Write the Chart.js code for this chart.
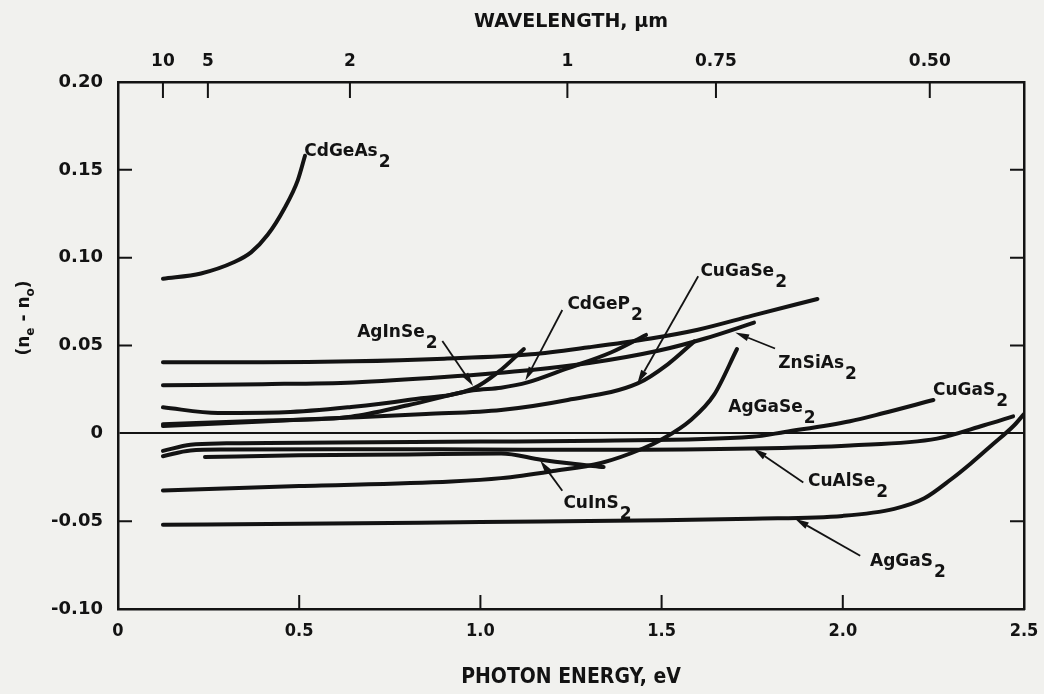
<!DOCTYPE html>
<html>
<head>
<meta charset="utf-8">
<script src="https://cdn.jsdelivr.net/npm/chart.js@4.4.1/dist/chart.umd.min.js"></script>
<style>
  html, body { margin: 0; padding: 0; background: #f1f1ee; }
  #wrap { width: 1044px; height: 694px; }
</style>
</head>
<body>
<div id="wrap"><canvas id="biref" width="1044" height="694"></canvas></div>
<script>
// Birefringence (ne - no) of chalcopyrite crystals vs photon energy

// photon energy (eV) / birefringence for each curve
const cdGeAs2E = [0.124, 0.229, 0.321, 0.367, 0.413, 0.459, 0.496, 0.516];
const cdGeAs2N = [0.088, 0.091, 0.0975, 0.103, 0.113, 0.128, 0.144, 0.158];

// top curve has no label in the figure
const upperE = [0.124, 0.4, 0.65, 0.9, 1.14, 1.3, 1.47, 1.6, 1.75, 1.93];
const upperN = [0.0405, 0.0405, 0.041, 0.0425, 0.045, 0.049, 0.054, 0.059, 0.067, 0.0765];

const znSiAs2E = [0.124, 0.4, 0.65, 0.9, 1.14, 1.3, 1.49, 1.62, 1.755];
const znSiAs2N = [0.0274, 0.028, 0.029, 0.032, 0.036, 0.04, 0.047, 0.054, 0.063];

const agInSe2E = [0.124, 0.276, 0.46, 0.643, 0.8, 0.98, 1.05, 1.12];
const agInSe2N = [0.0148, 0.0116, 0.012, 0.015, 0.019, 0.0255, 0.035, 0.048];

const cdGeP2E = [0.124, 0.4, 0.643, 0.8, 0.98, 1.057, 1.13, 1.24, 1.36, 1.457];
const cdGeP2N = [0.0052, 0.0072, 0.0095, 0.016, 0.0245, 0.026, 0.029, 0.037, 0.046, 0.056];

const cuGaSe2E = [0.124, 0.4, 0.643, 0.85, 1.057, 1.241, 1.434, 1.517, 1.59];
const cuGaSe2N = [0.0042, 0.0068, 0.009, 0.011, 0.0133, 0.019, 0.0284, 0.0393, 0.0523];

const agGaSe2E = [0.124, 0.5, 0.92, 1.057, 1.2, 1.333, 1.45, 1.5, 1.58, 1.645, 1.708];
const agGaSe2N = [-0.0325, -0.03, -0.0274, -0.0255, -0.0215, -0.0169, -0.0085, -0.0035, 0.0075, 0.022, 0.048];

const cuGaS2E = [0.124, 0.2, 0.3, 0.6, 1.0, 1.33, 1.75, 1.84, 2.02, 2.11, 2.25];
const cuGaS2N = [-0.01, -0.0065, -0.0057, -0.0052, -0.0047, -0.0042, -0.002, 0.0008, 0.0069, 0.0114, 0.019];

const cuAlSe2E = [0.124, 0.2, 0.3, 0.6, 1.0, 1.33, 1.75, 2.02, 2.26, 2.39, 2.47];
const cuAlSe2N = [-0.013, -0.0098, -0.0092, -0.009, -0.0092, -0.0094, -0.0087, -0.0069, -0.003, 0.0046, 0.0097];

const cuInS2E = [0.24, 0.5, 0.8, 1.057, 1.167, 1.25, 1.34];
const cuInS2N = [-0.0135, -0.0125, -0.012, -0.0115, -0.015, -0.0172, -0.0192];

const agGaS2E = [0.124, 0.5, 1.0, 1.5, 1.75, 2.0, 2.142, 2.225, 2.3, 2.354, 2.41, 2.473, 2.5];
const agGaS2N = [-0.052, -0.0515, -0.0505, -0.0495, -0.0486, -0.047, -0.043, -0.037, -0.026, -0.017, -0.0069, 0.0046, 0.011];

// axes
const energyTicks = [0.5, 1.0, 1.5, 2.0];
const deltaTicks = [-0.05, 0.05, 0.10, 0.15];
const wavelengthLabels = ["10", "5", "2", "1", "0.75", "0.50"];
const wavelengthTickEnergy = [0.124, 0.248, 0.64, 1.24, 1.65, 2.24];

const ink = "#131313";

function pts(xs, ys) {
  return xs.map((x, i) => ({ x: x, y: ys[i] }));
}

const curves = [
  ["CdGeAs2", cdGeAs2E, cdGeAs2N],
  ["upper", upperE, upperN],
  ["ZnSiAs2", znSiAs2E, znSiAs2N],
  ["AgInSe2", agInSe2E, agInSe2N],
  ["CdGeP2", cdGeP2E, cdGeP2N],
  ["CuGaSe2", cuGaSe2E, cuGaSe2N],
  ["AgGaSe2", agGaSe2E, agGaSe2N],
  ["CuGaS2", cuGaS2E, cuGaS2N],
  ["CuAlSe2", cuAlSe2E, cuAlSe2N],
  ["CuInS2", cuInS2E, cuInS2N],
  ["AgGaS2", agGaS2E, agGaS2N],
];

// curve labels: text anchor and optional arrow (tail -> tip), in data units
const notes = [
  { base: "CdGeAs", x: 0.514, y: 0.1577 },
  { base: "AgInSe", x: 0.66, y: 0.0551, arrow: [0.895, 0.0526, 0.98, 0.0269] },
  { base: "CdGeP", x: 1.24, y: 0.0707, arrow: [1.226, 0.0702, 1.124, 0.0301] },
  { base: "CuGaSe", x: 1.607, y: 0.0894, arrow: [1.601, 0.0894, 1.433, 0.0283] },
  { base: "ZnSiAs", x: 1.822, y: 0.0374, arrow: [1.813, 0.0483, 1.703, 0.0574] },
  { base: "AgGaSe", x: 1.684, y: 0.012 },
  { base: "CuGaS", x: 2.249, y: 0.0217 },
  { base: "CuAlSe", x: 1.904, y: -0.0297, arrow: [1.891, -0.028, 1.753, -0.0086] },
  { base: "CuInS", x: 1.229, y: -0.0424, arrow: [1.226, -0.0327, 1.165, -0.0155] },
  { base: "AgGaS", x: 2.075, y: -0.0754, arrow: [2.048, -0.0697, 1.868, -0.0486] },
];

const bold = (size, family) => ({ family: family || "'DejaVu Sans', sans-serif", size: size, weight: "bold" });

const decorations = {
  id: "decorations",
  afterDraw(chart) {
    const { ctx, chartArea: a, scales } = chart;
    const sx = scales.x, sy = scales.y;
    ctx.save();
    ctx.strokeStyle = ink;
    ctx.fillStyle = ink;
    ctx.lineWidth = 2;

    // inward tick marks
    ctx.beginPath();
    energyTicks.forEach(v => {
      const px = sx.getPixelForValue(v);
      ctx.moveTo(px, a.bottom); ctx.lineTo(px, a.bottom - 14);
    });
    wavelengthTickEnergy.forEach(v => {
      const px = sx.getPixelForValue(v);
      ctx.moveTo(px, a.top); ctx.lineTo(px, a.top + 16);
    });
    deltaTicks.forEach(v => {
      const py = sy.getPixelForValue(v);
      ctx.moveTo(a.left, py); ctx.lineTo(a.left + 14, py);
      ctx.moveTo(a.right, py); ctx.lineTo(a.right - 14, py);
    });
    ctx.stroke();

    // curve labels with subscript 2 and arrows
    ctx.font = "bold 17px 'DejaVu Sans', sans-serif";
    ctx.textAlign = "left";
    ctx.textBaseline = "alphabetic";
    notes.forEach(n => {
      const px = sx.getPixelForValue(n.x), py = sy.getPixelForValue(n.y);
      ctx.fillText(n.base, px, py);
      const w = ctx.measureText(n.base).width;
      ctx.fillText("2", px + w + 1, py + 11);
      if (n.arrow) {
        const x1 = sx.getPixelForValue(n.arrow[0]), y1 = sy.getPixelForValue(n.arrow[1]);
        const x2 = sx.getPixelForValue(n.arrow[2]), y2 = sy.getPixelForValue(n.arrow[3]);
        const ang = Math.atan2(y2 - y1, x2 - x1);
        const hl = 14, hw = 3.5;
        const bx = x2 - hl * Math.cos(ang), by = y2 - hl * Math.sin(ang);
        ctx.lineWidth = 1.8;
        ctx.beginPath();
        ctx.moveTo(x1, y1); ctx.lineTo(bx, by);
        ctx.stroke();
        ctx.beginPath();
        ctx.moveTo(x2, y2);
        ctx.lineTo(bx + hw * Math.sin(ang), by - hw * Math.cos(ang));
        ctx.lineTo(bx - hw * Math.sin(ang), by + hw * Math.cos(ang));
        ctx.closePath();
        ctx.fill();
      }
    });

    // y title (ne - no) with subscripts
    ctx.translate(25, 318);
    ctx.rotate(-Math.PI / 2);
    const parts = [["(n", 17, 0], ["e", 12, 6], [" - n", 17, 0], ["o", 12, 6], [")", 17, 0]];
    let total = 0;
    parts.forEach(p => { ctx.font = "bold " + p[1] + "px 'DejaVu Sans', sans-serif"; total += ctx.measureText(p[0]).width; });
    let cx = -total / 2;
    ctx.textBaseline = "middle";
    parts.forEach(p => {
      ctx.font = "bold " + p[1] + "px 'DejaVu Sans', sans-serif";
      ctx.fillText(p[0], cx, p[2]);
      cx += ctx.measureText(p[0]).width;
    });
    ctx.restore();
  },
};

new Chart(document.getElementById("biref").getContext("2d"), {
  type: "line",
  data: {
    datasets: curves.map(c => ({
      label: c[0],
      data: pts(c[1], c[2]),
      borderColor: ink,
      borderWidth: 4,
      pointRadius: 0,
      fill: false,
      cubicInterpolationMode: "monotone",
      borderCapStyle: "round",
    })),
  },
  options: {
    responsive: false,
    animation: false,
    layout: { padding: 0 },
    plugins: { legend: { display: false }, tooltip: { enabled: false } },
    scales: {
      x: {
        type: "linear",
        position: "bottom",
        min: 0,
        max: 2.5,
        ticks: {
          stepSize: 0.5,
          autoSkip: false,
          maxRotation: 0,
          padding: 12,
          color: ink,
          font: bold(18, "'DejaVu Sans Condensed', 'DejaVu Sans', sans-serif"),
          callback: v => (v === 0 ? "0" : v.toFixed(1)),
        },
        grid: { display: false, drawTicks: false },
        border: { display: true, color: ink, width: 2.5 },
        title: {
          display: true,
          text: "PHOTON ENERGY, eV",
          color: ink,
          font: bold(21, "'DejaVu Sans Condensed', 'DejaVu Sans', sans-serif"),
          padding: { top: 0, bottom: 4 },
        },
        afterFit: s => { s.height = 85; s.paddingLeft = 0; s.paddingRight = 0; },
      },
      xTop: {
        type: "linear",
        position: "top",
        min: 0,
        max: 2.5,
        afterBuildTicks: s => { s.ticks = wavelengthTickEnergy.map(v => ({ value: v })); },
        ticks: {
          autoSkip: false,
          maxRotation: 0,
          padding: 10,
          color: ink,
          font: bold(17),
          callback: (v, i) => wavelengthLabels[i],
        },
        grid: { display: false, drawTicks: false },
        border: { display: true, color: ink, width: 2.5 },
        title: {
          display: true,
          text: "WAVELENGTH, \u00b5m",
          color: ink,
          font: bold(19),
          padding: { top: 11, bottom: 0 },
        },
        afterFit: s => { s.height = 82; s.paddingLeft = 0; s.paddingRight = 0; },
      },
      y: {
        type: "linear",
        position: "left",
        min: -0.1,
        max: 0.2,
        ticks: {
          stepSize: 0.05,
          padding: 15,
          color: ink,
          font: bold(18),
          callback: v => (Math.abs(v) < 1e-9 ? "0" : v.toFixed(2)),
        },
        grid: {
          display: true,
          drawTicks: false,
          lineWidth: 2,
          color: c => (c.tick && Math.abs(c.tick.value) < 1e-9 ? ink : "rgba(0,0,0,0)"),
        },
        border: { display: true, color: ink, width: 2.5 },
        afterFit: s => { s.width = 118; s.paddingTop = 0; s.paddingBottom = 0; },
      },
      yRight: {
        type: "linear",
        position: "right",
        min: -0.1,
        max: 0.2,
        ticks: { display: false },
        grid: { display: false, drawTicks: false },
        border: { display: true, color: ink, width: 2.5 },
        afterFit: s => { s.width = 20; s.paddingTop = 0; s.paddingBottom = 0; },
      },
    },
  },
  plugins: [decorations],
});
</script>
</body>
</html>
